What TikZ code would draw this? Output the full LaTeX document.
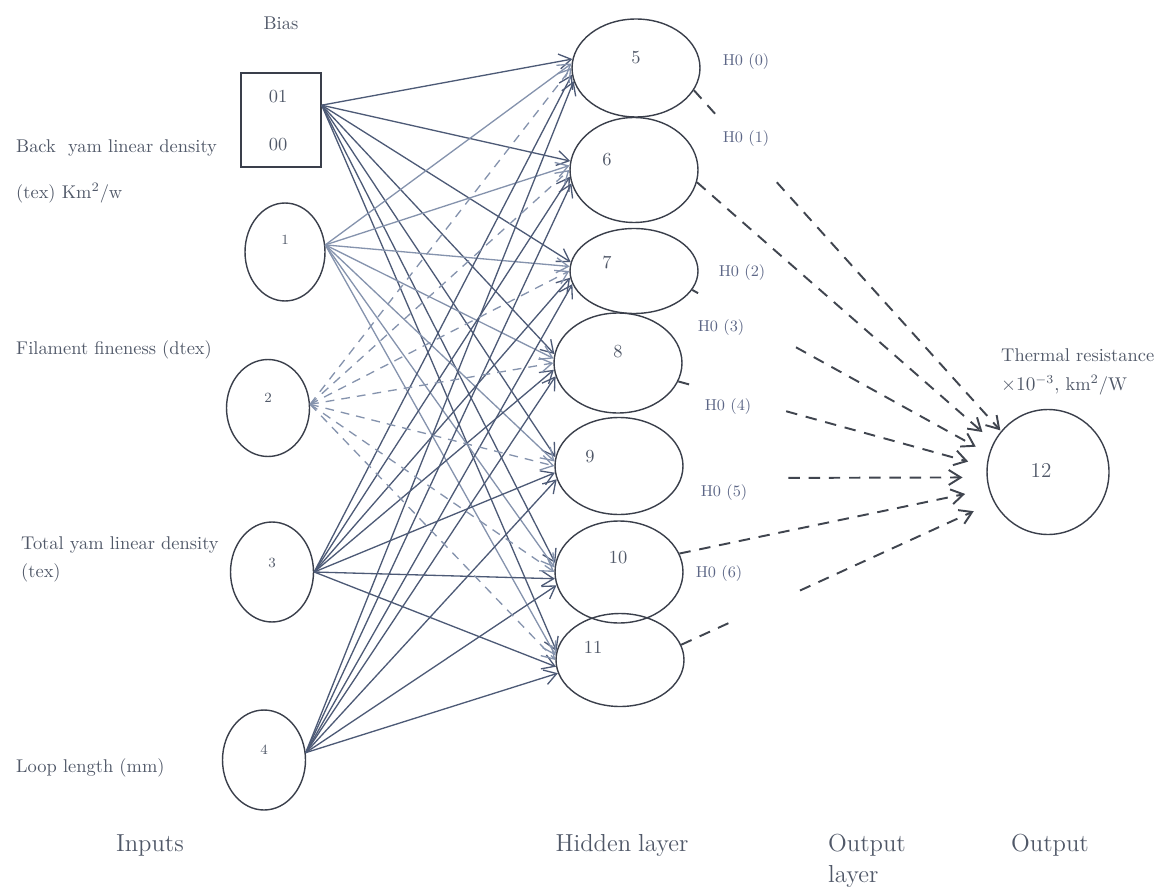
\documentclass[tikz,border=0pt]{standalone}
\usetikzlibrary{shapes.geometric, arrows.meta, calc}

\definecolor{inkgray}{HTML}{3A3F4B}
\definecolor{textgray}{HTML}{505868}
\definecolor{hzero}{HTML}{5C6686}
\definecolor{linkdark}{HTML}{4D5A76}
\definecolor{linklight}{HTML}{8593AD}
\definecolor{dashgray}{HTML}{40454F}

\begin{document}
\begin{tikzpicture}[> = {Straight Barb[length = 2.4mm, width = 3mm]}, x = 0.02cm, y = -0.02cm,
	font = \fontsize{10.5}{12}\selectfont, text = textgray,
	unit/.style = {ellipse, draw = inkgray, line width = 0.8pt, inner sep = 0pt},
	caption/.style = {font = \fontsize{14}{16}\selectfont},
	link/.style = {->, draw = linkdark, line width = 0.75pt},
	outlink/.style = {draw = dashgray, line width = 1.1pt, dash pattern = on 6.5pt off 5pt}]

	\useasboundingbox (0, 0) rectangle (1158, 888);

	% Bias box

	\node (biastext) at (281, 23) {Bias};
	\node [draw = inkgray, line width = 0.8pt, minimum width = 1.6cm, minimum height = 1.88cm] (bias) at (281, 120) {};
	\node (b01) at (278, 97) {01};
	\node (b00) at (278, 145) {00};

	% Input units

	\foreach \i/\x/\y/\w/\h/\dy in {1/285/252/1.6/1.96/-12, 2/268/408/1.66/1.94/-10, 3/272/572/1.66/2.0/-9, 4/264/760/1.66/2.0/-10}
	{
		\node [unit, minimum width = \w cm, minimum height = \h cm] (in\i) at (\x, \y) {};
		\node [font = \footnotesize] (ni\i) at ($(in\i) + (0, \dy)$) {\i};
	}

	% Hidden units

	\foreach \j/\x/\y/\h/\dx/\dy in {5/636/68/1.96/0/-10, 6/634/170/2.1/-27/-10, 7/634/271/1.7/-27/-9, 8/618/363/2.0/0/-11, 9/619/466/1.94/-29/-9, 10/619/572/2.04/-1/-14, 11/620/660/1.86/-27/-13}
	{
		\node [unit, minimum width = 2.56cm, minimum height = \h cm] (h\j) at (\x, \y) {};
		\node (nh\j) at ($(h\j) + (\dx, \dy)$) {\j};
	}

	% Output unit

	\node [unit, minimum width = 2.44cm, minimum height = 2.5cm] (out) at (1048, 472) {};
	\node [font = \fontsize{12}{14}\selectfont] (nout) at (1041, 470) {12};

	% Input -> hidden weights

	\foreach \s/\a/\c/\t in {bias/20/linkdark/172, in1/10/linklight/176, in3/0/linkdark/186, in4/10/linkdark/192}
		\foreach \j in {5, ..., 11}
			\draw [link, draw = \c] (\s.\a) -- (h\j.\t);

	\foreach \j in {5, ..., 11}
		\draw [link, draw = linklight, dash pattern = on 5pt off 4pt] (in2.5) -- (h\j.180);

	% Hidden -> output weights (broken near the labels)

	\foreach \j/\s/\t/\e/\a/\b in {5/339/139/0.02/0.07/0.27, 6/349/151/0.3/0/0, 7/342/163/0.3/0.02/0.35, 8/343/175/0.38/0.035/0.35, 9/349/185/0.48/0/0.35, 10/17/196/0.48/0/0, 11/14/209/0.44/0.17/0.38}
	{
		\draw [outlink] (h\j.\s) -- ($(h\j.\s)!\a!(out.\t)$);
		\draw [outlink, ->, shorten > = \e cm] ($(h\j.\s)!\b!(out.\t)$) -- (out.\t);
	}

	% H0 labels

	\foreach \k/\x/\y in {0/746/62, 1/746/139, 2/742/273, 3/721/328, 4/728/407, 5/724/493, 6/719/574}
		\node [font = \fontsize{9}{10}\selectfont, text = hzero] (ho\k) at (\x, \y) {H0 (\k)};

	% Input descriptions

	\node [anchor = west] (l1a) at (10, 148) {Back\ \ yam linear density};
	\node [anchor = west] (l1b) at (10, 193) {(tex) Km\textsuperscript{2}/w};
	\node [anchor = west] (l2) at (10, 350) {Filament fineness (dtex)};
	\node [anchor = west] (l3a) at (15, 545) {Total yam linear density};
	\node [anchor = west] (l3b) at (15, 573) {(tex)};
	\node [anchor = west] (l4) at (10, 768) {Loop length (mm)};

	% Output description

	\node [anchor = west] (lo1) at (995, 355) {Thermal resistance};
	\node [anchor = west] (lo2) at (995, 385) {$\times10^{-3}$, km\textsuperscript{2}/W};

	% Layer captions

	\node [caption] (capin) at (150, 845) {Inputs};
	\node [caption] (caphid) at (622, 845) {Hidden\hspace{4pt}layer};
	\node [caption, anchor = west] (capol1) at (822, 845) {Output};
	\node [caption, anchor = west] (capol2) at (822, 876) {layer};
	\node [caption, anchor = west] (capout) at (1005, 845) {Output};

\end{tikzpicture}
\end{document}
